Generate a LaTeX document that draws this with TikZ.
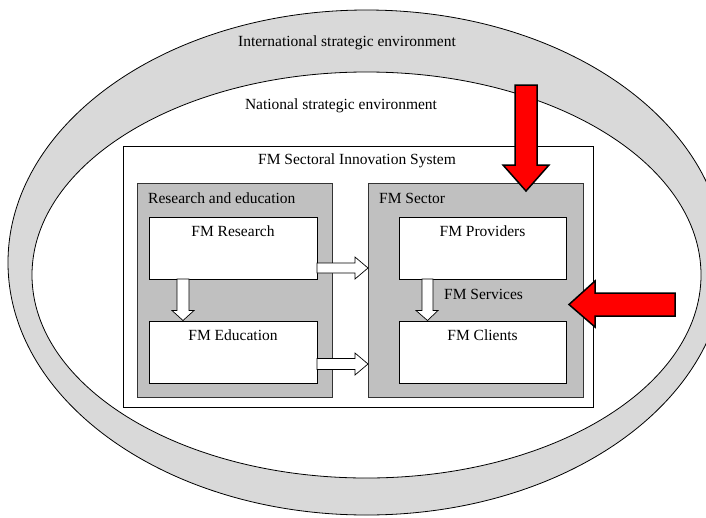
\documentclass[tikz,border=0pt]{standalone}
\usepackage{fontspec}
\setmainfont{Liberation Serif}
\definecolor{band}{RGB}{217,217,217}
\definecolor{boxgray}{RGB}{192,192,192}
\definecolor{redarrow}{RGB}{255,0,0}
\tikzset{
  lbl/.style={inner sep=0pt, font=\fontsize{15.5}{18}\selectfont},
  whitebox/.style={draw=black, fill=white, line width=0.8pt, inner sep=0pt, anchor=north west},
  graybox/.style={draw=black!80, fill=boxgray, line width=0.9pt, inner sep=0pt, anchor=north west},
  hollow/.style={draw=black, fill=white, line width=0.7pt, line join=miter},
  redblock/.style={draw=black, fill=redarrow, line width=1.5pt, line join=miter},
}
\begin{document}
\begin{tikzpicture}[x=1pt,y=-1pt]
\useasboundingbox (0,0) rectangle (706,517);
\begin{scope}
\clip (0,0) rectangle (706,517);
\draw[fill=band, line width=0.8pt] (366.5,262.5) ellipse [x radius=358.5pt, y radius=252.5pt];
\draw[fill=white, line width=0.8pt] (366.5,275) ellipse [x radius=334.5pt, y radius=203pt];
\end{scope}
\node[lbl] (intl) at (347,43) {International strategic environment};
\node[lbl] (natl) at (341,106) {National strategic environment};

% Sectoral innovation system
\node[whitebox, minimum width=470pt, minimum height=261pt] (sis) at (123,146) {};
\node[lbl] (sist) at (357,161) {FM Sectoral Innovation System};

% Research and education
\node[graybox, minimum width=195pt, minimum height=214pt] (re) at (137,183) {};
\node[lbl, anchor=west] (ret) at (148,198) {Research and education};
\node[whitebox, minimum width=168pt, minimum height=62pt] (res) at (149,217) {};
\node[lbl] (rest) at (233,231.5) {FM Research};
\node[whitebox, minimum width=168pt, minimum height=62pt] (edu) at (149,321) {};
\node[lbl] (edut) at (233,335.5) {FM Education};

% FM Sector
\node[graybox, minimum width=215pt, minimum height=214pt] (sec) at (368,183) {};
\node[lbl, anchor=west] (sect) at (379,198) {FM Sector};
\node[whitebox, minimum width=167pt, minimum height=62pt] (prov) at (399,217) {};
\node[lbl] (provt) at (482.5,231.5) {FM Providers};
\node[whitebox, minimum width=167pt, minimum height=62pt] (cli) at (399,321) {};
\node[lbl] (clit) at (482.5,335.5) {FM Clients};
\node[lbl, anchor=west] (serv) at (444,294) {FM Services};

% hollow block arrows
\draw[hollow] (317,263) -- (355,263) -- (355,257) -- (368,268) -- (355,279) -- (355,273) -- (317,273) -- cycle;
\draw[hollow] (317,358.5) -- (355,358.5) -- (355,353) -- (368,364) -- (355,375) -- (355,369.5) -- (317,369.5) -- cycle;
\draw[hollow] (177,279) -- (177,310.5) -- (172,310.5) -- (183,320.5) -- (194,310.5) -- (189,310.5) -- (189,279) -- cycle;
\draw[hollow] (422,279) -- (422,310.5) -- (416,310.5) -- (427.5,320.5) -- (438,310.5) -- (433,310.5) -- (433,279) -- cycle;

% red block arrows
\draw[redblock] (515,85) -- (537,85) -- (537,165) -- (549,165) -- (526,191) -- (503,165) -- (515,165) -- cycle;
\draw[redblock] (675,293) -- (675,316) -- (595,316) -- (595,327) -- (569,304.5) -- (595,281) -- (595,293) -- cycle;
\end{tikzpicture}
\end{document}
